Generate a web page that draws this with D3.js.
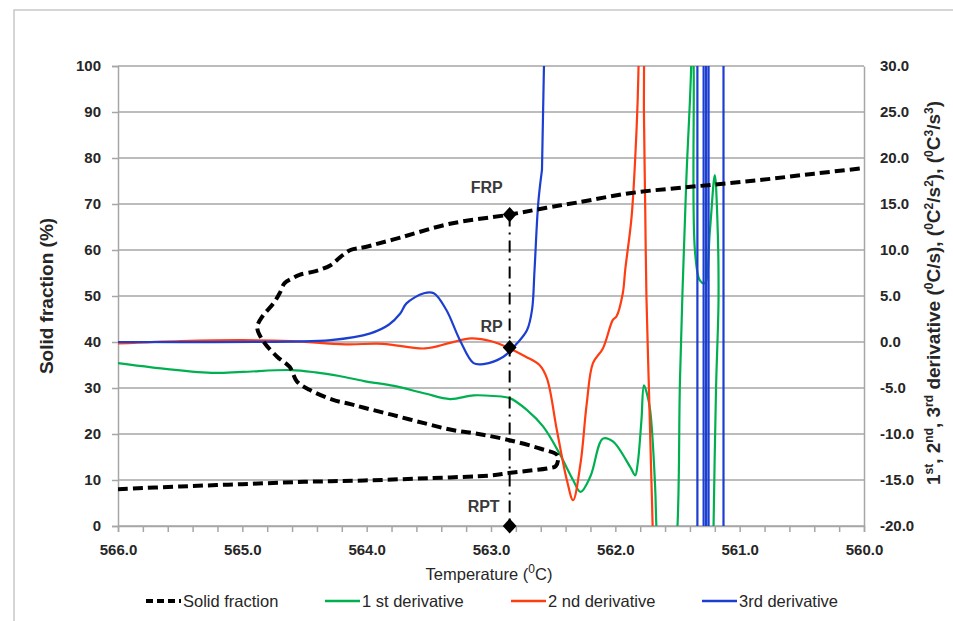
<!DOCTYPE html>
<html>
<head>
<meta charset="utf-8">
<script src="https://cdn.jsdelivr.net/npm/d3@7"></script>
<style>
  body { margin: 0; background: #fff; }
  svg { display: block; }
  .tick-lbl { font-family: "Liberation Sans", Arial, sans-serif; font-weight: bold; font-size: 15px; fill: #262626; }
  .ax-title { font-family: "Liberation Sans", Arial, sans-serif; font-weight: bold; font-size: 19px; fill: #262626; }
  .leg { font-family: "Liberation Sans", Arial, sans-serif; font-size: 16.5px; fill: #262626; }
  .note { font-family: "Liberation Sans", Arial, sans-serif; font-weight: bold; font-size: 16px; fill: #3a3a3a; }
</style>
</head>
<body>
<div id="chart"></div>
<script>

const FRAME_HEIGHT = 621;
const FRAME_WIDTH = 953;
const MARGINS = {left: 118, right: 89, top: 66, bottom: 95};

const VIS_HEIGHT = FRAME_HEIGHT - MARGINS.top - MARGINS.bottom;
const VIS_WIDTH = FRAME_WIDTH - MARGINS.left - MARGINS.right;

// data: [temperature, value]
const solidTemp = [566.0, 565.5, 565.0, 564.5, 564.02, 563.5, 563.0, 562.86, 562.7, 562.55, 562.48, 562.46,
  562.47, 562.6, 562.86, 563.1, 563.3, 563.53, 563.8, 564.02, 564.13, 564.27, 564.46, 564.56, 564.62,
  564.72, 564.83, 564.88, 564.84, 564.75, 564.70, 564.66, 564.60, 564.54, 564.41, 564.29, 564.21,
  564.13, 564.02, 563.73, 563.33, 562.85, 562.55, 562.31, 561.87, 561.33, 560.84, 560.4, 560.0];
const solidFrac = [8.0, 8.6, 9.1, 9.6, 9.9, 10.4, 11.0, 11.5, 12.0, 12.5, 13.0, 14.5,
  15.5, 16.8, 18.7, 20.0, 20.8, 22.3, 24.2, 25.7, 26.5, 27.4, 29.6, 31.4, 34.6,
  36.8, 40.1, 43.2, 45.5, 48.4, 50.6, 52.8, 53.8, 54.6, 55.4, 56.7, 58.5,
  60.0, 60.6, 62.7, 65.7, 67.7, 69.2, 70.3, 72.4, 73.9, 75.2, 76.6, 77.8];

const d1Temp = [566.0, 565.73, 565.25, 565.0, 564.61, 564.41, 564.22, 564.02, 563.78, 563.53, 563.33,
  563.14, 562.98, 562.85, 562.71, 562.58, 562.45, 562.34, 562.28, 562.20, 562.10, 562.02, 561.88,
  561.84, 561.82, 561.79, 561.77, 561.75, 561.72, 561.68, 561.67, 561.6, 561.50, 561.48, 561.43,
  561.39, 561.385, 561.37, 561.36, 561.32, 561.28, 561.24, 561.20, 561.18, 561.17, 561.19, 561.21, 561.22];
const d1Val = [-2.3, -2.75, -3.35, -3.25, -3.05, -3.3, -3.7, -4.25, -4.77, -5.6, -6.2,
  -5.8, -5.87, -6.1, -7.4, -9.2, -12.1, -15.0, -16.3, -14.6, -10.5, -10.8, -13.6,
  -14.5, -13.2, -8.5, -4.7, -5.4, -7.4, -15.7, -20, -40, -20, -4.1, 17.25,
  30, 40, 30, 10, 6.7, 6.4, 12, 18.15, 13.6, 4.8, -5, -20, -30];

const d2Temp = [566.0, 565.49, 565.0, 564.61, 564.17, 563.87, 563.53, 563.33, 563.16, 562.99, 562.85,
  562.72, 562.61, 562.55, 562.47, 562.39, 562.34, 562.28, 562.23, 562.18, 562.10, 562.02, 561.99,
  561.94, 561.92, 561.87, 561.84, 561.82, 561.81, 561.79, 561.77, 561.77, 561.76, 561.75, 561.73,
  561.71, 561.70, 561.69];
const d2Val = [-0.15, 0.1, 0.2, 0.1, -0.25, -0.2, -0.7, -0.1, 0.4, 0.05, -0.7,
  -1.6, -2.5, -3.95, -9.6, -15.0, -17.2, -13.2, -6.7, -2.3, -0.7, 2.4, 2.8,
  5.3, 7.9, 13.5, 20, 26.4, 32, 40, 32, 25, 15, 5, -5,
  -15, -20, -30];

const d3Temp = [566.0, 564.61, 564.29, 563.97, 563.82, 563.73, 563.68, 563.54, 563.46, 563.36, 563.25,
  563.14, 563.06, 562.90, 562.79, 562.71, 562.67, 562.65, 562.62, 562.59, 562.56,
  561.34, 561.34, 561.29, 561.29, 561.27, 561.27, 561.25, 561.25, 561.13, 561.13];
const d3Val = [0.0, 0.05, 0.2, 0.94, 1.9, 3.1, 4.2, 5.3, 5.3, 3.5, 0.2,
  -2.3, -2.4, -1.6, -0.14, 1.3, 3.5, 7.8, 15.1, 18.7, 40,
  60, -60, -60, 60, 60, -60, -60, 60, 60, -60];

const leftTicks = [0, 10, 20, 30, 40, 50, 60, 70, 80, 90, 100];
const rightTicks = [-20, -15, -10, -5, 0, 5, 10, 15, 20, 25, 30];
const xTicks = [566, 565, 564, 563, 562, 561, 560];

// FRP / RP / RPT markers
const rpTemp = 562.85;
const frpFrac = 67.7;
const rpVal = -0.6;

// smooth: how many leading points get the smooth curve, the rest (the vertical oscillations) are straight
const SERIES = [
  {name: "1 st derivative", color: "#00b050", t: d1Temp, v: d1Val, smooth: d1Temp.length},
  {name: "2 nd derivative", color: "#ff3c12", t: d2Temp, v: d2Val, smooth: d2Temp.length},
  {name: "3rd derivative", color: "#1c3fd2", t: d3Temp, v: d3Val, smooth: 20}
];

// Excel style: plain hyphen for negatives
const fmt1 = (d) => d3.format(".1f")(d).replace("\u2212", "-");

const FRAME1 = d3.select("#chart")
                  .append("svg")
                    .attr("height", FRAME_HEIGHT)
                    .attr("width", FRAME_WIDTH);

FRAME1.append("rect").attr("width", FRAME_WIDTH).attr("height", FRAME_HEIGHT).attr("fill", "#fff");
// chart area border (runs off the right/bottom edges)
FRAME1.append("rect")
      .attr("x", 14).attr("y", 10)
      .attr("width", FRAME_WIDTH + 20).attr("height", FRAME_HEIGHT + 20)
      .attr("fill", "none").attr("stroke", "#c8c8c8").attr("stroke-width", 1.5);

const X_SCALE = d3.scaleLinear().domain([566, 560]).range([MARGINS.left, MARGINS.left + VIS_WIDTH]);
const Y_LEFT = d3.scaleLinear().domain([0, 100]).range([MARGINS.top + VIS_HEIGHT, MARGINS.top]);
const Y_RIGHT = d3.scaleLinear().domain([-20, 30]).range([MARGINS.top + VIS_HEIGHT, MARGINS.top]);

// gridlines
FRAME1.selectAll(".grid")
      .data(leftTicks)
      .enter()
      .append("line")
        .attr("x1", MARGINS.left)
        .attr("x2", MARGINS.left + VIS_WIDTH)
        .attr("y1", (d) => Y_LEFT(d))
        .attr("y2", (d) => Y_LEFT(d))
        .attr("stroke", "#a6a6a6")
        .attr("stroke-width", 1.5);

// left axis (ticks outward, labels)
const leftAxis = FRAME1.append("g")
      .attr("transform", "translate(" + MARGINS.left + ",0)")
      .call(d3.axisLeft(Y_LEFT).tickValues(leftTicks).tickSize(6).tickPadding(11));
leftAxis.selectAll("text").attr("class", "tick-lbl");

// right axis, no ticks
const rightAxis = FRAME1.append("g")
      .attr("transform", "translate(" + (MARGINS.left + VIS_WIDTH) + ",0)")
      .call(d3.axisRight(Y_RIGHT).tickValues(rightTicks).tickSize(0).tickPadding(16).tickFormat(fmt1));
rightAxis.selectAll("text").attr("class", "tick-lbl");

// bottom axis with minor ticks every 0.2
const xMinor = d3.range(0, 31).map((i) => 566 - i * 0.2);
const bottomAxis = FRAME1.append("g")
      .attr("transform", "translate(0," + (MARGINS.top + VIS_HEIGHT) + ")")
      .call(d3.axisBottom(X_SCALE).tickValues(xMinor).tickSize(6).tickPadding(12)
            .tickFormat((d) => xTicks.some((t) => Math.abs(t - d) < 1e-6) ? fmt1(d) : ""));
bottomAxis.selectAll("text").attr("class", "tick-lbl");

FRAME1.selectAll(".domain, .tick line").attr("stroke", "#a6a6a6").attr("stroke-width", 1.5);

FRAME1.append("clipPath").attr("id", "plotclip")
      .append("rect")
        .attr("x", MARGINS.left).attr("y", MARGINS.top)
        .attr("width", VIS_WIDTH).attr("height", VIS_HEIGHT);

const plot = FRAME1.append("g").attr("clip-path", "url(#plotclip)");

const smoothLine = d3.line().curve(d3.curveCatmullRom.alpha(0.5))
                     .x((d) => X_SCALE(d[0])).y((d) => Y_RIGHT(d[1]));
const straightLine = d3.line().x((d) => X_SCALE(d[0])).y((d) => Y_RIGHT(d[1]));

// derivative curves on the right axis
SERIES.forEach((s) => {
  const pts = s.t.map((t, i) => [t, s.v[i]]);
  const parts = [[pts.slice(0, s.smooth), smoothLine]];
  if (s.smooth < pts.length) parts.push([pts.slice(s.smooth - 1), straightLine]);
  parts.forEach((p) => {
    plot.append("path")
        .datum(p[0])
        .attr("fill", "none")
        .attr("stroke", s.color)
        .attr("stroke-width", 2.2)
        .attr("stroke-linejoin", "round")
        .attr("d", p[1]);
  });
});

// solid fraction, dashed
const solidPts = solidTemp.map((t, i) => [t, solidFrac[i]]);
plot.append("path")
    .datum(solidPts)
    .attr("fill", "none")
    .attr("stroke", "#000")
    .attr("stroke-width", 4)
    .attr("stroke-dasharray", "10,5")
    .attr("d", d3.line().curve(d3.curveCatmullRom.alpha(0.5))
                 .x((d) => X_SCALE(d[0])).y((d) => Y_LEFT(d[1])));

// dash-dot line FRP -> RPT
FRAME1.append("line")
      .attr("x1", X_SCALE(rpTemp)).attr("x2", X_SCALE(rpTemp))
      .attr("y1", Y_LEFT(frpFrac)).attr("y2", Y_LEFT(0))
      .attr("stroke", "#000").attr("stroke-width", 2)
      .attr("stroke-dasharray", "12,6,2,6");

const marks = [
  {label: "FRP", y: Y_LEFT(frpFrac), dx: -23, dy: -26},
  {label: "RP", y: Y_RIGHT(rpVal), dx: -18, dy: -20},
  {label: "RPT", y: Y_LEFT(0), dx: -26, dy: -18}
];

FRAME1.selectAll(".mk")
      .data(marks)
      .enter()
      .append("path")
        .attr("d", d3.symbol(d3.symbolSquare).size(95))
        .attr("transform", (d) => "translate(" + X_SCALE(rpTemp) + "," + d.y + ") scale(1,1.1) rotate(45)")
        .attr("fill", "#000");

FRAME1.selectAll(".note")
      .data(marks)
      .enter()
      .append("text")
        .attr("class", "note")
        .attr("x", (d) => X_SCALE(rpTemp) + d.dx)
        .attr("y", (d) => d.y + d.dy)
        .attr("text-anchor", "middle")
        .attr("dominant-baseline", "middle")
        .text((d) => d.label);

// axis titles
FRAME1.append("text")
      .attr("class", "ax-title")
      .attr("font-size", "20px")
      .attr("transform", "translate(53," + (MARGINS.top + VIS_HEIGHT / 2) + ") rotate(-90)")
      .attr("text-anchor", "middle")
      .text("Solid fraction (%)");

const rt = FRAME1.append("text")
      .attr("class", "ax-title")
      .attr("transform", "translate(940,293) rotate(-90)")
      .attr("text-anchor", "middle");
const rparts = [["1", 0], ["st", 1], [", 2", 0], ["nd", 1], [", 3", 0], ["rd", 1], [" derivative (", 0], ["0", 1],
  ["C/s), (", 0], ["0", 1], ["C", 0], ["2", 1], ["/s", 0], ["2", 1], ["), (", 0], ["0", 1], ["C", 0], ["3", 1],
  ["/s", 0], ["3", 1], [")", 0]];
rparts.forEach((p) => {
  rt.append("tspan")
    .attr("baseline-shift", p[1] ? "super" : null)
    .attr("font-size", p[1] ? "12px" : null)
    .text(p[0]);
});

const xt = FRAME1.append("text")
      .attr("class", "leg")
      .attr("x", 489).attr("y", 580)
      .attr("font-size", "18px")
      .attr("text-anchor", "middle");
xt.append("tspan").text("Temperature (");
xt.append("tspan").attr("baseline-shift", "super").attr("font-size", "12px").text("0");
xt.append("tspan").text("C)");

// legend
const legendItems = [
  {name: "Solid fraction", color: "#000", dash: "7,4", w: 4, x: 146},
  {name: SERIES[0].name, color: SERIES[0].color, dash: null, w: 2.5, x: 325},
  {name: SERIES[1].name, color: SERIES[1].color, dash: null, w: 2.5, x: 511},
  {name: SERIES[2].name, color: SERIES[2].color, dash: null, w: 2.5, x: 702}
];
const lg = FRAME1.selectAll(".lg").data(legendItems).enter().append("g");
lg.append("line")
  .attr("x1", (d) => d.x).attr("x2", (d) => d.x + 35)
  .attr("y1", 601).attr("y2", 601)
  .attr("stroke", (d) => d.color)
  .attr("stroke-width", (d) => d.w)
  .attr("stroke-dasharray", (d) => d.dash);
lg.append("text")
  .attr("class", "leg")
  .attr("x", (d) => d.x + 37).attr("y", 607)
  .text((d) => d.name);

</script>
</body>
</html>
